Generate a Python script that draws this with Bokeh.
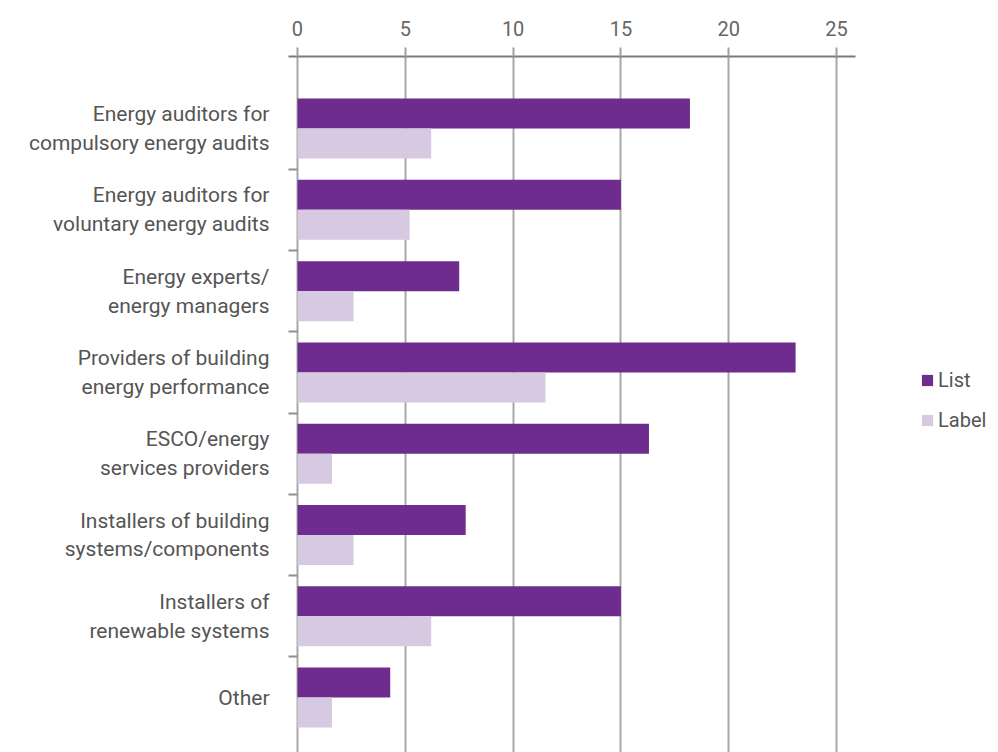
from bokeh.plotting import figure
from bokeh.models import (ColumnDataSource, Range1d, FixedTicker, Legend, LegendItem)
from bokeh.transform import dodge
from bokeh.embed import file_html
from bokeh.resources import INLINE

categories = [
    "Energy auditors for\ncompulsory energy audits",
    "Energy auditors for\nvoluntary energy audits",
    "Energy experts/\nenergy managers",
    "Providers of building\nenergy performance",
    "ESCO/energy\nservices providers",
    "Installers of building\nsystems/components",
    "Installers of\nrenewable systems",
    "Other",
]
list_values = [18.2, 15.0, 7.5, 23.1, 16.3, 7.8, 15.0, 4.3]
label_values = [6.2, 5.2, 2.6, 11.5, 1.6, 2.6, 6.2, 1.6]
x_ticks = [0, 5, 10, 15, 20, 25]

LIST_COLOR = "#6e2c8e"
LABEL_COLOR = "#d6c9e1"
FONT = "Roboto"

pos = list(range(len(categories)))
src = ColumnDataSource(dict(y=pos, lst=list_values, lbl=label_values))

p = figure(width=998, height=752, output_backend="svg", toolbar_location=None,
           x_axis_location="above",
           x_range=Range1d(-0.417, 32.51),
           y_range=Range1d(7.675, -0.886),
           min_border_left=288, min_border_right=0, min_border_top=56,
           min_border_bottom=0)
p.outline_line_color = None
p.background_fill_color = "white"
p.border_fill_color = "white"

bw = 0.369
r1 = p.hbar(y=dodge("y", -bw / 2), right="lst", left=0, height=bw, source=src,
            fill_color=LIST_COLOR, line_color=None)
r2 = p.hbar(y=dodge("y", bw / 2), right="lbl", left=0, height=bw, source=src,
            fill_color=LABEL_COLOR, line_color=None)

# x axis (top)
xa = p.xaxis[0]
xa.ticker = FixedTicker(ticks=x_ticks, minor_ticks=[])
xa.bounds = (-0.417, 25.88)
xa.axis_line_color = "#7a7a7a"
xa.axis_line_width = 2
xa.major_tick_line_color = "#a0a0a0"
xa.major_tick_line_width = 2
xa.major_tick_out = 9
xa.major_tick_in = 0
xa.minor_tick_line_color = None
xa.major_label_text_font = FONT
xa.major_label_text_font_size = "20px"
xa.major_label_text_color = "#666666"
xa.major_label_standoff = 12

p.xgrid.ticker = FixedTicker(ticks=x_ticks)
p.xgrid.grid_line_color = "#a8a8a8"
p.xgrid.grid_line_width = 2
p.ygrid.grid_line_color = None

# y axis (left)
ya = p.yaxis[0]
ya.ticker = FixedTicker(ticks=pos, minor_ticks=[i + 0.5 for i in pos[:-1]])
ya.major_label_overrides = {i: c for i, c in enumerate(categories)}
ya.major_tick_line_color = None
ya.minor_tick_line_color = "#909090"
ya.minor_tick_line_width = 2
ya.minor_tick_out = 0
ya.minor_tick_in = 9
ya.axis_line_color = None
ya.major_label_text_font = FONT
ya.major_label_text_font_size = "21px"
ya.major_label_text_color = "#555555"
ya.major_label_standoff = 13

legend = Legend(items=[LegendItem(label="List", renderers=[r1]),
                       LegendItem(label="Label", renderers=[r2])],
                location=(632, 320))
legend.border_line_color = None
legend.background_fill_alpha = 0
legend.glyph_width = 14
legend.glyph_height = 14
legend.label_standoff = 4
legend.spacing = 16
legend.margin = 0
legend.padding = 0
legend.label_text_font = FONT
legend.label_text_font_size = "20px"
legend.label_text_color = "#555555"
p.add_layout(legend, "center")

open("out.html", "w").write(file_html(p, INLINE))
